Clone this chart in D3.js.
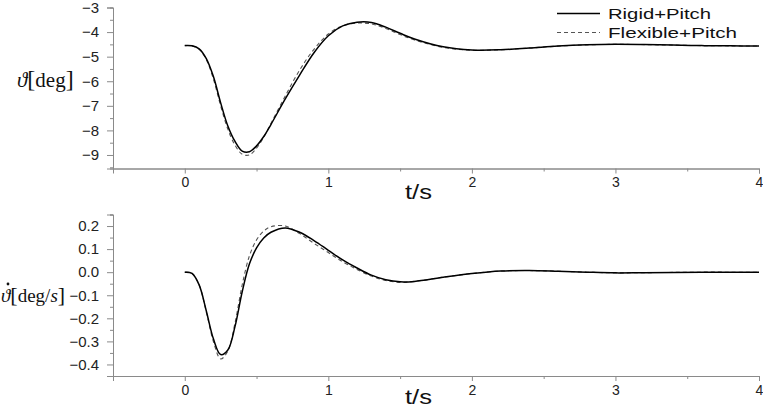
<!DOCTYPE html>
<html><head><meta charset="utf-8">
<script src="https://cdn.jsdelivr.net/npm/d3@7"></script>
<style>body{margin:0;background:#fff}svg{display:block}</style>
</head><body>
<svg id="c" width="763" height="409"></svg>
<script>
const time = [0,0.05,0.1,0.15,0.2,0.25,0.3,0.35,0.4,0.45,0.5,0.55,0.6,0.7,0.8,0.9,1.0,1.1,1.2,1.3,1.4,1.5,1.6,1.8,2.0,2.2,2.4,2.6,2.8,3.0,3.2,3.4,3.6,3.8,4.0];
const thetaRigid = [-4.55,-4.56,-4.68,-5.08,-5.82,-6.88,-7.82,-8.45,-8.84,-8.87,-8.63,-8.25,-7.76,-6.72,-5.75,-4.84,-4.15,-3.75,-3.6,-3.61,-3.8,-4.05,-4.28,-4.6,-4.73,-4.72,-4.65,-4.57,-4.52,-4.5,-4.51,-4.53,-4.55,-4.56,-4.57];
const thetaFlex = [-4.55,-4.56,-4.7,-5.12,-5.92,-7.0,-7.95,-8.6,-8.97,-9.0,-8.72,-8.28,-7.72,-6.6,-5.55,-4.7,-4.08,-3.74,-3.63,-3.67,-3.85,-4.1,-4.32,-4.62,-4.74,-4.72,-4.65,-4.57,-4.52,-4.5,-4.51,-4.53,-4.55,-4.56,-4.57];
const rateRigid = [0,-0.005,-0.055,-0.168,-0.29,-0.357,-0.337,-0.235,-0.085,0.035,0.105,0.148,0.173,0.192,0.173,0.137,0.095,0.053,0.018,-0.013,-0.033,-0.042,-0.04,-0.022,-0.006,0.005,0.007,0.004,0.0,-0.003,-0.002,-0.001,0,0,0];
const rateFlex = [0,-0.005,-0.055,-0.172,-0.302,-0.376,-0.342,-0.22,-0.055,0.07,0.14,0.178,0.197,0.2,0.167,0.125,0.085,0.045,0.012,-0.017,-0.036,-0.044,-0.04,-0.022,-0.006,0.005,0.007,0.004,0.0,-0.003,-0.002,-0.001,0,0,0];
const xTicks = [0,1,2,3,4];
const thetaTicks = [-3,-4,-5,-6,-7,-8,-9];
const rateTicks = [0.2,0.1,0.0,-0.1,-0.2,-0.3,-0.4];
const seriesNames = ["Rigid+Pitch","Flexible+Pitch"];
const legendWidths = [103,129];

const svg = d3.select("#c");
const x = d3.scaleLinear().domain([-0.5,4]).range([113,759]);
const AX = "#8a8a8a";
const font = "Arial, 'Liberation Sans', sans-serif";

function panel(yDomain, yRange, yTicks, yFmt, rigid, flex, tsBase){
  const y = d3.scaleLinear().domain(yDomain).range(yRange);
  const y0 = yRange[0];
  const g = svg.append("g");
  const xa = g.append("g").attr("transform",`translate(0,${y0})`)
    .call(d3.axisBottom(x).tickValues(xTicks).tickSize(5).tickPadding(4).tickFormat(d3.format("d")));
  const minorX = d3.range(-0.5,4.01,0.5).filter(v=>!xTicks.includes(v) && v>-0.5);
  g.append("g").attr("transform",`translate(0,${y0})`)
    .call(d3.axisBottom(x).tickValues(minorX).tickSize(3).tickFormat(""));
  g.append("g").attr("transform",`translate(113,0)`)
    .call(d3.axisLeft(y).tickValues(yTicks).tickSize(6).tickPadding(8).tickFormat(yFmt));
  const step = (yTicks[0]-yTicks[1])/2;
  const minorY = [];
  for(let v=yTicks[0]+step; v>=Math.min(...yDomain)-1e-9; v-=step){
    if(v<=Math.max(...yDomain)+1e-9 && !yTicks.some(t=>Math.abs(t-v)<1e-9)) minorY.push(v);
  }
  g.append("g").attr("transform",`translate(113,0)`)
    .call(d3.axisLeft(y).tickValues(minorY).tickSize(3).tickFormat(""));
  g.selectAll(".domain").attr("stroke",AX);
  g.selectAll(".tick line").attr("stroke",AX);
  g.selectAll(".tick text").attr("font-family",font).attr("font-size","15px").attr("fill","#222");
  xa.selectAll(".tick text").attr("font-size","14px");
  const line = d3.line().x((d,i)=>x(time[i])).y(d=>y(d)).curve(d3.curveCatmullRom.alpha(0.5));
  g.append("path").datum(flex).attr("d",line).attr("fill","none").attr("stroke","#555").attr("stroke-width",1.1).attr("stroke-dasharray","4,3");
  g.append("path").datum(rigid).attr("d",line).attr("fill","none").attr("stroke","#000").attr("stroke-width",1.5);
  g.append("text").attr("x",405).attr("y",tsBase).attr("font-family",font).attr("font-size","20px")
    .attr("textLength",27).attr("lengthAdjust","spacingAndGlyphs").attr("fill","#111").text("t/s");
  return y;
}

panel([-9.55,-3],[168.5,7.5],thetaTicks,d3.format("d"),thetaRigid,thetaFlex,199);
panel([-0.45,0.25],[376,214.5],rateTicks,d3.format(".1f"),rateRigid,rateFlex,404);

// y labels
const serif = "'Liberation Serif','DejaVu Serif',serif";
const l1 = svg.append("text").attr("x",17).attr("y",87).attr("font-family",serif).attr("font-size","21px").attr("fill","#111");
l1.append("tspan").attr("font-style","italic").text("ϑ");
l1.append("tspan").attr("font-size","24px").text("[");
l1.append("tspan").text("deg");
l1.append("tspan").attr("font-size","24px").text("]");

const l2 = svg.append("text").attr("x",1).attr("y",302).attr("font-family",serif).attr("font-size","19px").attr("fill","#111");
l2.append("tspan").attr("font-style","italic").text("ϑ");
l2.append("tspan").attr("font-size","22px").text("[");
l2.append("tspan").text("deg/");
l2.append("tspan").attr("font-style","italic").text("s");
l2.append("tspan").attr("font-size","22px").text("]");
svg.append("circle").attr("cx",8).attr("cy",284).attr("r",1.4).attr("fill","#111");

// legend
const lg = svg.append("g");
seriesNames.forEach((n,i)=>{
  const yy = 13.5 + i*19;
  lg.append("line").attr("x1",557).attr("x2",600).attr("y1",yy).attr("y2",yy)
    .attr("stroke", i===0?"#000":"#555").attr("stroke-width", i===0?1.3:1).attr("stroke-dasharray", i===0?null:"4,3");
  lg.append("text").attr("x",608).attr("y",yy+5.5).attr("font-family",font).attr("font-size","15.5px")
    .attr("textLength",legendWidths[i]).attr("lengthAdjust","spacingAndGlyphs").attr("fill","#111").text(n);
});
</script>
</body></html>
